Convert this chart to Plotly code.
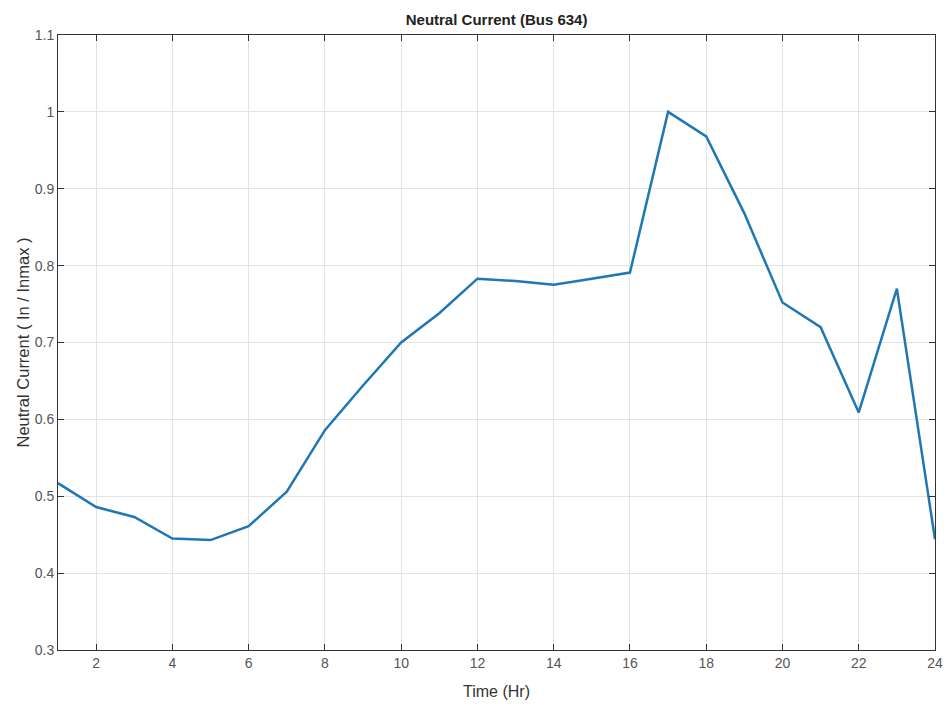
import plotly.graph_objects as go

hours = list(range(1, 25))
neutral_current = [0.517, 0.486, 0.473, 0.445, 0.443, 0.461, 0.506, 0.586,
                   0.644, 0.700, 0.738, 0.783, 0.780, 0.775, 0.783, 0.791,
                   1.000, 0.968, 0.868, 0.752, 0.720, 0.609, 0.770, 0.444]
x_ticks = list(range(2, 25, 2))
y_ticks = [0.3, 0.4, 0.5, 0.6, 0.7, 0.8, 0.9, 1.0, 1.1]
y_labels = ["0.3", "0.4", "0.5", "0.6", "0.7", "0.8", "0.9", "1", "1.1"]

fig = go.Figure()
fig.add_trace(go.Scatter(x=hours, y=neutral_current, mode="lines",
                         line=dict(color="#1f77b4", width=2.5), showlegend=False))

axis_common = dict(showline=True, linecolor="#333333", linewidth=1, mirror="ticks",
                   ticks="inside", ticklen=6, tickcolor="#333333", automargin=False,
                   showgrid=True, gridcolor="#e3e3e3", gridwidth=1, zeroline=False,
                   tickfont=dict(family="Liberation Sans, Arial", size=14, color="#555555"))

fig.update_layout(
    width=952, height=704,
    margin=dict(l=58, r=17, t=35, b=54),
    paper_bgcolor="white", plot_bgcolor="white",
    title=dict(text="<b>Neutral Current (Bus 634)</b>", x=0.5216, xanchor="center",
               y=1 - 20 / 704, yanchor="middle",
               font=dict(family="Liberation Sans, Arial", size=15, color="#222222")),
    xaxis=dict(range=[1, 24], tickvals=x_ticks,
               title=dict(text="Time (Hr)", standoff=16,
                          font=dict(family="Liberation Sans, Arial", size=16, color="#333333")),
               **axis_common),
    yaxis=dict(range=[0.3, 1.1], tickvals=y_ticks, ticktext=y_labels,
               title=dict(text="Neutral Current ( In / Inmax )", standoff=0,
                          font=dict(family="Liberation Sans, Arial", size=16.5, color="#333333")),
               **axis_common),
)

fig.write_html("out.html")
